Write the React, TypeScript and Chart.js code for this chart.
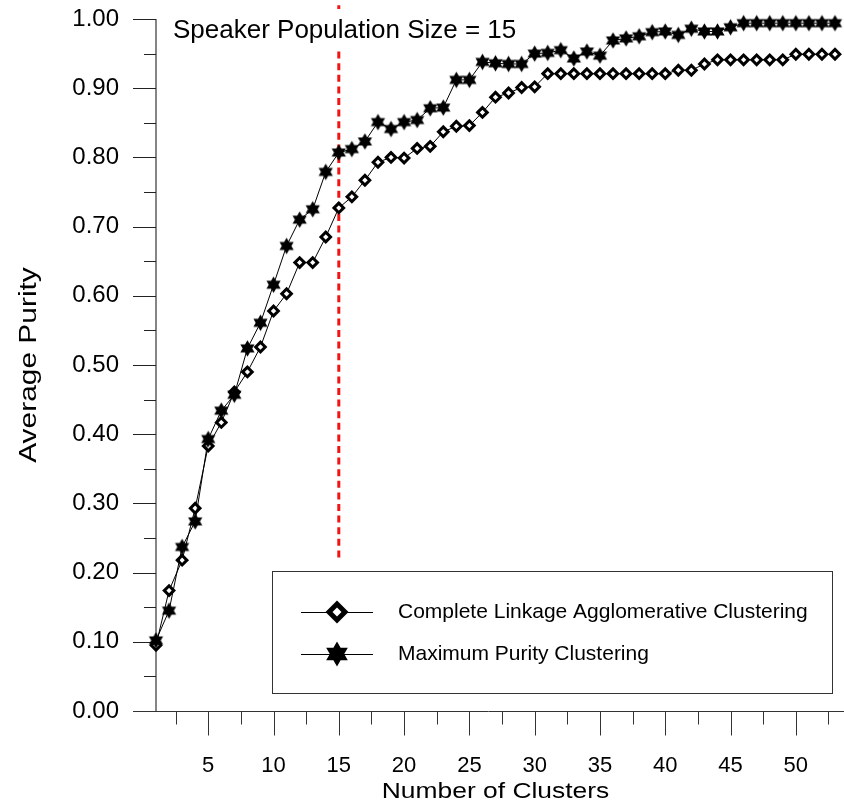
import React, { useEffect, useRef } from "react";
import { Chart, registerables } from "chart.js";

Chart.register(...registerables);

// ---------- data ----------
const clusters = [
  1, 2, 3, 4, 5, 6, 7, 8, 9, 10,
  11, 12, 13, 14, 15, 16, 17, 18, 19, 20,
  21, 22, 23, 24, 25, 26, 27, 28, 29, 30,
  31, 32, 33, 34, 35, 36, 37, 38, 39, 40,
  41, 42, 43, 44, 45, 46, 47, 48, 49, 50,
  51, 52, 53,
];

const completeLinkage = [
  0.095, 0.174, 0.218, 0.293, 0.383, 0.417, 0.461, 0.490, 0.526, 0.578,
  0.603, 0.648, 0.648, 0.685, 0.727, 0.743, 0.767, 0.793, 0.800, 0.799,
  0.813, 0.816, 0.837, 0.845, 0.846, 0.865, 0.887, 0.893, 0.901, 0.902,
  0.921, 0.921, 0.921, 0.921, 0.921, 0.921, 0.921, 0.921, 0.921, 0.921,
  0.926, 0.926, 0.935, 0.941, 0.941, 0.941, 0.941, 0.941, 0.941, 0.949,
  0.949, 0.949, 0.949,
];

const maxPurity = [
  0.102, 0.145, 0.237, 0.274, 0.393, 0.434, 0.457, 0.524, 0.561, 0.616,
  0.672, 0.710, 0.725, 0.779, 0.807, 0.812, 0.823, 0.851, 0.841, 0.851,
  0.854, 0.871, 0.872, 0.912, 0.912, 0.938, 0.936, 0.935, 0.935, 0.950,
  0.951, 0.955, 0.943, 0.953, 0.947, 0.969, 0.972, 0.975, 0.981, 0.982,
  0.977, 0.986, 0.982, 0.982, 0.988, 0.994, 0.994, 0.994, 0.994, 0.994,
  0.994, 0.994, 0.994,
];

const seriesNames = [
  "Complete Linkage Agglomerative Clustering",
  "Maximum Purity Clustering",
];

const xMajorTicks = [5, 10, 15, 20, 25, 30, 35, 40, 45, 50];
const xMinorTicks = [2.5, 7.5, 12.5, 17.5, 22.5, 27.5, 32.5, 37.5, 42.5, 47.5, 52.5];
const yMajorTicks = [0, 0.1, 0.2, 0.3, 0.4, 0.5, 0.6, 0.7, 0.8, 0.9, 1.0];
const yMinorTicks = [0.05, 0.15, 0.25, 0.35, 0.45, 0.55, 0.65, 0.75, 0.85, 0.95];

const markerCluster = 15;
const markerLineBottom = 0.222;
const markerLabel = "Speaker Population Size = 15";

const xTitle = "Number of Clusters";
const yTitle = "Average Purity";

const FONT = "'Liberation Sans', Arial, Helvetica, sans-serif";

// ---------- helpers ----------
function hexagramPath(ctx: CanvasRenderingContext2D, cx: number, cy: number, r: number) {
  ctx.beginPath();
  for (let t = 0; t < 2; t++) {
    for (let i = 0; i < 3; i++) {
      const a = -Math.PI / 2 + t * Math.PI + (i * 2 * Math.PI) / 3;
      const px = cx + r * Math.cos(a);
      const py = cy + r * Math.sin(a);
      if (i === 0) ctx.moveTo(px, py);
      else ctx.lineTo(px, py);
    }
    ctx.closePath();
  }
}

function makeStar(r: number): HTMLCanvasElement {
  const size = Math.ceil(2 * r + 2);
  const c = document.createElement("canvas");
  c.width = size;
  c.height = size;
  const ctx = c.getContext("2d")!;
  ctx.fillStyle = "#000";
  hexagramPath(ctx, size / 2, size / 2, r);
  ctx.fill("nonzero");
  return c;
}

function diamond(ctx: CanvasRenderingContext2D, cx: number, cy: number, outer: number, inner: number) {
  ctx.fillStyle = "#000";
  ctx.beginPath();
  ctx.moveTo(cx, cy - outer);
  ctx.lineTo(cx + outer, cy);
  ctx.lineTo(cx, cy + outer);
  ctx.lineTo(cx - outer, cy);
  ctx.closePath();
  ctx.fill();
  ctx.fillStyle = "#fff";
  ctx.beginPath();
  ctx.moveTo(cx, cy - inner);
  ctx.lineTo(cx + inner, cy);
  ctx.lineTo(cx, cy + inner);
  ctx.lineTo(cx - inner, cy);
  ctx.closePath();
  ctx.fill();
}

export default function App() {
  const ref = useRef<HTMLCanvasElement>(null);

  useEffect(() => {
    document.body.style.margin = "0";
    const canvas = ref.current!;
    const starImg = makeStar(8.2);

    const decorPlugin = {
      id: "decor",
      beforeDatasetsDraw(chart: any) {
        const { ctx, chartArea, scales } = chart;
        const xs = scales.x;
        const ys = scales.y;
        ctx.save();
        // y axis line
        ctx.strokeStyle = "#858585";
        ctx.lineWidth = 2;
        ctx.beginPath();
        ctx.moveTo(chartArea.left, chartArea.top);
        ctx.lineTo(chartArea.left, chartArea.bottom);
        ctx.stroke();
        // y ticks
        ctx.strokeStyle = "#222";
        ctx.lineWidth = 1;
        yMajorTicks.forEach((v) => {
          const p = Math.round(ys.getPixelForValue(v)) + 0.5;
          ctx.beginPath();
          ctx.moveTo(chartArea.left - 23, p);
          ctx.lineTo(chartArea.left, p);
          ctx.stroke();
        });
        yMinorTicks.forEach((v) => {
          const p = Math.round(ys.getPixelForValue(v)) + 0.5;
          ctx.beginPath();
          ctx.moveTo(chartArea.left - 12, p);
          ctx.lineTo(chartArea.left, p);
          ctx.stroke();
        });
        // x axis line
        const by = Math.round(chartArea.bottom) + 0.5;
        ctx.strokeStyle = "#333";
        ctx.beginPath();
        ctx.moveTo(chartArea.left - 23, by);
        ctx.lineTo(chart.width, by);
        ctx.stroke();
        xMajorTicks.forEach((v) => {
          const p = Math.round(xs.getPixelForValue(v)) + 0.5;
          ctx.beginPath();
          ctx.moveTo(p, by);
          ctx.lineTo(p, by + 24);
          ctx.stroke();
        });
        xMinorTicks.forEach((v) => {
          const p = Math.round(xs.getPixelForValue(v)) + 0.5;
          ctx.beginPath();
          ctx.moveTo(p, by);
          ctx.lineTo(p, by + 13);
          ctx.stroke();
        });
        // red dashed marker line
        const mx = xs.getPixelForValue(markerCluster);
        ctx.strokeStyle = "#f01414";
        ctx.lineWidth = 3;
        ctx.setLineDash([7, 4.6]);
        ctx.beginPath();
        ctx.moveTo(mx, ys.getPixelForValue(markerLineBottom));
        ctx.lineTo(mx, 2);
        ctx.stroke();
        ctx.setLineDash([]);
        // label box covering the line
        ctx.fillStyle = "#fff";
        ctx.fillRect(165, 9, 360, 41);
        ctx.fillStyle = "#000";
        ctx.font = `26px ${FONT}`;
        ctx.textAlign = "left";
        ctx.textBaseline = "alphabetic";
        ctx.fillText(markerLabel, 173, 38);

        // axis titles (slightly wide lettering as in the original)
        const cxMid = (chartArea.left + chartArea.right) / 2;
        const cyMid = (chartArea.top + chartArea.bottom) / 2;
        ctx.fillStyle = "#000";
        ctx.font = `22px ${FONT}`;
        ctx.textAlign = "center";
        ctx.textBaseline = "alphabetic";
        ctx.save();
        ctx.translate(cxMid, 798);
        ctx.scale(1.2, 1);
        ctx.fillText(xTitle, 0, 0);
        ctx.restore();
        ctx.save();
        ctx.translate(30, cyMid);
        ctx.rotate(-Math.PI / 2);
        ctx.scale(1.3, 1);
        ctx.font = `23px ${FONT}`;
        ctx.textBaseline = "middle";
        ctx.fillText(yTitle, 0, 0);
        ctx.restore();
        ctx.restore();
      },
      afterDraw(chart: any) {
        const { ctx } = chart;
        ctx.save();
        // legend box
        const bx = 272.5, byy = 571.5, bw = 560, bh = 122;
        ctx.fillStyle = "#fff";
        ctx.fillRect(bx, byy, bw, bh);
        ctx.strokeStyle = "#333";
        ctx.lineWidth = 1;
        ctx.strokeRect(bx, byy, bw, bh);
        const rows = [612, 654];
        ctx.strokeStyle = "#000";
        rows.forEach((ry, i) => {
          ctx.beginPath();
          ctx.moveTo(301, ry + 0.5);
          ctx.lineTo(373, ry + 0.5);
          ctx.stroke();
          if (i === 0) diamond(ctx, 337, ry, 11.5, 4.5);
          else {
            ctx.fillStyle = "#000";
            hexagramPath(ctx, 337, ry, 12.5);
            ctx.fill("nonzero");
          }
          ctx.fillStyle = "#000";
          ctx.font = `21px ${FONT}`;
          ctx.textAlign = "left";
          ctx.textBaseline = "middle";
          ctx.fillText(seriesNames[i], 398, ry);
        });
        ctx.restore();
      },
    };

    const chart = new Chart(canvas, {
      type: "line",
      data: {
        datasets: [
          {
            label: seriesNames[0],
            data: clusters.map((c, i) => ({ x: c, y: completeLinkage[i] })),
            borderColor: "#000",
            borderWidth: 1,
            pointStyle: "rectRot",
            pointRadius: 4.8,
            pointBorderWidth: 3,
            pointBorderColor: "#000",
            pointBackgroundColor: "#fff",
            clip: false,
            order: 2,
          },
          {
            label: seriesNames[1],
            data: clusters.map((c, i) => ({ x: c, y: maxPurity[i] })),
            borderColor: "#000",
            borderWidth: 1,
            pointStyle: starImg as any,
            pointRadius: 8,
            clip: false,
            order: 1,
          },
        ],
      },
      options: {
        responsive: false,
        animation: false,
        devicePixelRatio: 1,
        layout: { padding: { top: 19, right: 8, left: 0, bottom: 0 } },
        plugins: {
          legend: { display: false },
          tooltip: { enabled: false },
        },
        scales: {
          x: {
            type: "linear",
            min: 1,
            max: 53,
            afterBuildTicks: (s: any) => {
              s.ticks = xMajorTicks.map((v) => ({ value: v }));
            },
            afterFit: (s: any) => {
              s.height = 98;
            },
            grid: { display: false, drawTicks: true, tickLength: 42 },
            border: { display: false },
            ticks: {
              color: "#000",
              font: { family: FONT, size: 22 },
              padding: 0,
              maxRotation: 0,
              autoSkip: false,
            },
            title: { display: false, text: xTitle },
          },
          y: {
            type: "linear",
            min: 0,
            max: 1,
            afterBuildTicks: (s: any) => {
              s.ticks = yMajorTicks.map((v) => ({ value: v }));
            },
            afterFit: (s: any) => {
              s.width = 156;
            },
            grid: { display: false, drawTicks: true, tickLength: 37 },
            border: { display: false },
            ticks: {
              color: "#000",
              font: { family: FONT, size: 24 },
              padding: 0,
              autoSkip: false,
              callback: (v: any) => Number(v).toFixed(2),
            },
            title: { display: false, text: yTitle },
          },
        },
      },
      plugins: [decorPlugin],
    });

    return () => chart.destroy();
  }, []);

  return (
    <div style={{ width: 844, height: 809 }}>
      <canvas ref={ref} width={844} height={809} style={{ display: "block", width: 844, height: 809 }} />
    </div>
  );
}
